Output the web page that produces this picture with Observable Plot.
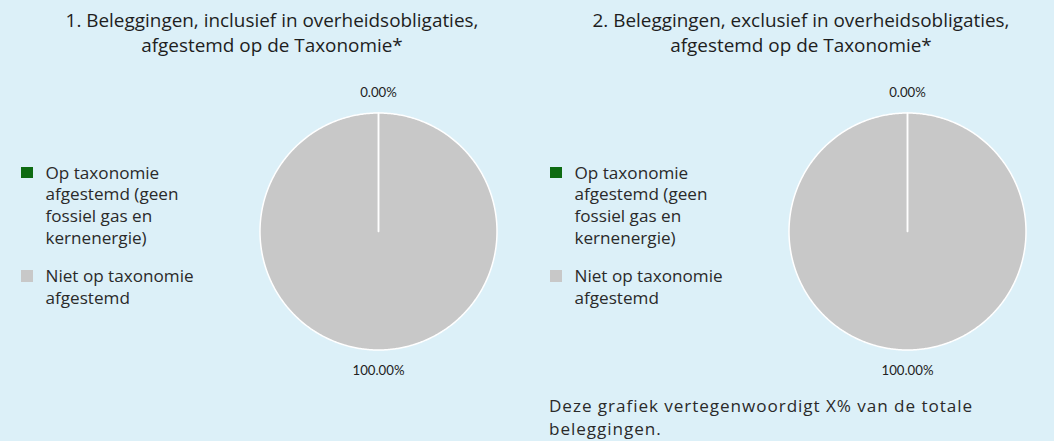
<!DOCTYPE html>
<html>
<head>
<meta charset="utf-8">
<script src="https://cdn.jsdelivr.net/npm/d3@7"></script>
<script src="https://cdn.jsdelivr.net/npm/@observablehq/plot@0.6"></script>
<style>
  html, body { margin: 0; padding: 0; }
  body { width: 1054px; height: 441px; background: #dcf0f8; overflow: hidden; font-family: "Open Sans", sans-serif; color: #222; }
  #root { position: relative; width: 1054px; height: 441px; background: #dcf0f8; }
  .blk { position: absolute; white-space: nowrap; }
  .title { text-align: center; line-height: 25px; color: #1e1e1e; }
  .legend { line-height: 21.7px; color: #2a2a2a; }
  .legend .item { position: relative; margin-bottom: 16.9px; }
  .legend .sw { position: absolute; left: -24.5px; top: 5px; width: 11.5px; height: 11.5px; }
  .note { line-height: 23px; color: #2a2a2a; }
</style>
</head>
<body>
<div id="root"></div>
<script>
// ---- data ----
const chartTitles = [
  ["1. Beleggingen, inclusief in overheidsobligaties,", "afgestemd op de Taxonomie*"],
  ["2. Beleggingen, exclusief in overheidsobligaties,", "afgestemd op de Taxonomie*"]
];
const categories = ["Op taxonomie afgestemd (geen fossiel gas en kernenergie)", "Niet op taxonomie afgestemd"];
const legendLines = [
  ["Op taxonomie", "afgestemd (geen", "fossiel gas en", "kernenergie)"],
  ["Niet op taxonomie", "afgestemd"]
];
const colors = ["#0e6b12", "#c8c8c8"];
const chart1Values = [0.00, 100.00];
const chart2Values = [0.00, 100.00];
const footnote = ["Deze grafiek vertegenwoordigt X% van de totale", "beleggingen."];

// ---- layout ----
const FONT = "Open Sans";
const R = 118.5;           // pie radius in px
const W = 280, H = 320;    // svg size
const pieCenter = [[378, 231], [907, 231]];
const titleCenter = [272, 801];
const legendTextX = [45.5, 574.5];
const noteX = 549;

const ctx = document.createElement("canvas").getContext("2d");
function measure(text, size) {
  ctx.font = `${size}px "${FONT}"`;
  return ctx.measureText(text).width;
}
function fitSize(text, target) {
  return 100 * target / measure(text, 100);
}

function slices(values) {
  const arcs = d3.pie().sort(null)(values);
  const pts = [];
  const labels = [];
  arcs.forEach((a, i) => {
    const cat = categories[i];
    const n = Math.max(1, Math.ceil((a.endAngle - a.startAngle) / 0.01));
    pts.push({cat, x: 0, y: 0});
    for (let k = 0; k <= n; k++) {
      const t = a.startAngle + (a.endAngle - a.startAngle) * k / n;
      pts.push({cat, x: Math.sin(t), y: Math.cos(t)});
    }
    const m = (a.startAngle + a.endAngle) / 2;
    labels.push({cat, x: 1.173 * Math.sin(m), y: 1.173 * Math.cos(m), text: values[i].toFixed(2) + "%"});
  });
  return {pts, labels};
}

function pie(values) {
  const {pts, labels} = slices(values);
  const drawOrder = categories.slice().sort((a, b) => values[categories.indexOf(b)] - values[categories.indexOf(a)]);
  const sx = W / 2 / R, sy = H / 2 / R;
  return Plot.plot({
    width: W, height: H, margin: 0,
    style: {background: "transparent", overflow: "visible"},
    x: {domain: [-sx, sx], axis: null},
    y: {domain: [-sy, sy], axis: null},
    color: {domain: categories, range: colors},
    marks: [
      ...drawOrder.map(c => Plot.line(pts.filter(d => d.cat === c), {
        x: "x", y: "y", fill: "cat", stroke: "white", strokeWidth: 1.5,
        curve: "linear-closed"
      })),
      Plot.text(labels, {x: "x", y: "y", text: "text", fontSize: 13.2, fill: "#222",
        fontFamily: "Lato, sans-serif"})
    ]
  });
}

const titleSize = fitSize(chartTitles[0][0], 413);
const legendSize = (fitSize("afgestemd (geen", 134) + fitSize("Niet op taxonomie", 147)) / 2;
const noteSize = Math.min(fitSize(footnote[0], 424), legendSize);
const noteSpacing = Math.max(0, (424 - measure(footnote[0], noteSize)) / footnote[0].length);

const root = document.getElementById("root");
[chart1Values, chart2Values].forEach((vals, p) => {
  const t = document.createElement("div");
  t.className = "blk title";
  t.style.fontSize = titleSize + "px";
  t.style.width = "600px";
  t.style.left = (titleCenter[p] - 300) + "px";
  t.style.top = (20 - 12.5) + "px";
  t.innerHTML = chartTitles[p].join("<br>");
  root.appendChild(t);

  const lg = document.createElement("div");
  lg.className = "blk legend";
  lg.style.fontSize = legendSize + "px";
  lg.style.left = legendTextX[p] + "px";
  lg.style.top = (172.4 - 21.7 / 2) + "px";
  categories.forEach((c, i) => {
    const it = document.createElement("div");
    it.className = "item";
    const sw = document.createElement("span");
    sw.className = "sw";
    sw.style.background = colors[i];
    it.appendChild(sw);
    const tx = document.createElement("div");
    tx.innerHTML = legendLines[i].join("<br>");
    it.appendChild(tx);
    lg.appendChild(it);
  });
  root.appendChild(lg);

  const svg = pie(vals);
  svg.style.position = "absolute";
  svg.style.left = (pieCenter[p][0] - W / 2) + "px";
  svg.style.top = (pieCenter[p][1] - H / 2) + "px";
  root.appendChild(svg);
});

const n = document.createElement("div");
n.className = "blk note";
n.style.fontSize = noteSize + "px";
n.style.letterSpacing = noteSpacing + "px";
n.style.left = noteX + "px";
n.style.top = (405 - 23 / 2) + "px";
n.innerHTML = footnote.join("<br>");
root.appendChild(n);
</script>
</body>
</html>
